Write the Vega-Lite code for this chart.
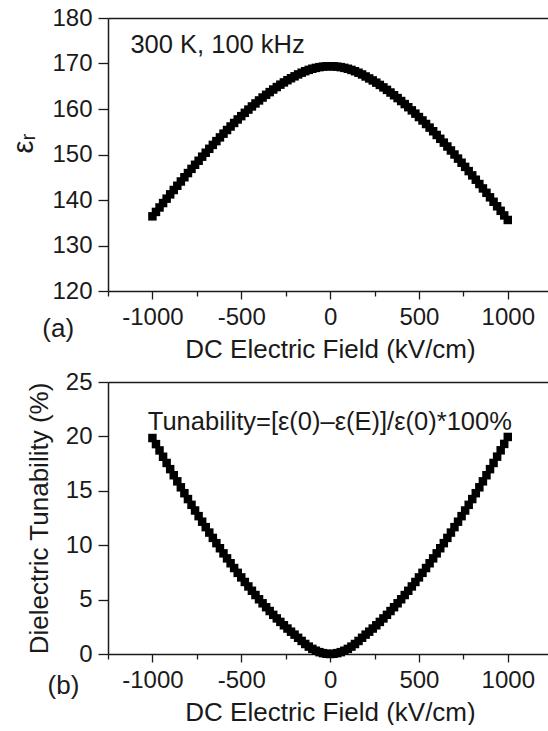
{
  "$schema": "https://vega.github.io/schema/vega-lite/v6.json",
  "padding": {"left": 9, "top": 6, "right": 0, "bottom": 0},
  "spacing": 8,
  "config": {
    "view": {"stroke": null},
    "font": "Liberation Sans",
    "axis": {
      "grid": false,
      "domainColor": "#1a1a1a",
      "domainWidth": 1.5,
      "tickColor": "#1a1a1a",
      "tickWidth": 1.3,
      "labelFont": "Liberation Sans",
      "labelFontSize": 24,
      "labelColor": "#1a1a1a",
      "labelOverlap": false,
      "labelFlush": false,
      "labelBound": false,
      "titleFont": "Liberation Sans",
      "titleFontSize": 26,
      "titleFontWeight": "normal",
      "titleColor": "#1a1a1a"
    }
  },
  "datasets": {
    "eps": [
      {"E": -1000, "v": 136.41}, {"E": -980, "v": 137.38}, {"E": -960, "v": 138.36}, {"E": -940, "v": 139.33}, {"E": -920, "v": 140.29},
      {"E": -900, "v": 141.24}, {"E": -880, "v": 142.20}, {"E": -860, "v": 143.13}, {"E": -840, "v": 144.07}, {"E": -820, "v": 145.00},
      {"E": -800, "v": 145.92}, {"E": -780, "v": 146.84}, {"E": -760, "v": 147.74}, {"E": -740, "v": 148.63}, {"E": -720, "v": 149.52},
      {"E": -700, "v": 150.39}, {"E": -680, "v": 151.25}, {"E": -660, "v": 152.11}, {"E": -640, "v": 152.94}, {"E": -620, "v": 153.76},
      {"E": -600, "v": 154.58}, {"E": -580, "v": 155.38}, {"E": -560, "v": 156.16}, {"E": -540, "v": 156.93}, {"E": -520, "v": 157.70},
      {"E": -500, "v": 158.43}, {"E": -480, "v": 159.16}, {"E": -460, "v": 159.87}, {"E": -440, "v": 160.56}, {"E": -420, "v": 161.22},
      {"E": -400, "v": 161.88}, {"E": -380, "v": 162.52}, {"E": -360, "v": 163.12}, {"E": -340, "v": 163.71}, {"E": -320, "v": 164.28},
      {"E": -300, "v": 164.82}, {"E": -280, "v": 165.35}, {"E": -260, "v": 165.84}, {"E": -240, "v": 166.33}, {"E": -220, "v": 166.76},
      {"E": -200, "v": 167.18}, {"E": -180, "v": 167.60}, {"E": -160, "v": 167.98}, {"E": -140, "v": 168.31}, {"E": -120, "v": 168.60},
      {"E": -100, "v": 168.85}, {"E": -80, "v": 169.04}, {"E": -60, "v": 169.20}, {"E": -40, "v": 169.31}, {"E": -20, "v": 169.38},
      {"E": 0, "v": 169.40},
      {"E": 20, "v": 169.38}, {"E": 40, "v": 169.31}, {"E": 60, "v": 169.20}, {"E": 80, "v": 169.04}, {"E": 100, "v": 168.84},
      {"E": 120, "v": 168.59}, {"E": 140, "v": 168.30}, {"E": 160, "v": 167.97}, {"E": 180, "v": 167.59}, {"E": 200, "v": 167.15},
      {"E": 220, "v": 166.72}, {"E": 240, "v": 166.28}, {"E": 260, "v": 165.79}, {"E": 280, "v": 165.29}, {"E": 300, "v": 164.75},
      {"E": 320, "v": 164.20}, {"E": 340, "v": 163.62}, {"E": 360, "v": 163.02}, {"E": 380, "v": 162.40}, {"E": 400, "v": 161.75},
      {"E": 420, "v": 161.08}, {"E": 440, "v": 160.40}, {"E": 460, "v": 159.70}, {"E": 480, "v": 158.98}, {"E": 500, "v": 158.23},
      {"E": 520, "v": 157.48}, {"E": 540, "v": 156.70}, {"E": 560, "v": 155.91}, {"E": 580, "v": 155.11}, {"E": 600, "v": 154.29},
      {"E": 620, "v": 153.45}, {"E": 640, "v": 152.61}, {"E": 660, "v": 151.76}, {"E": 680, "v": 150.88}, {"E": 700, "v": 150.00},
      {"E": 720, "v": 149.10}, {"E": 740, "v": 148.19}, {"E": 760, "v": 147.28}, {"E": 780, "v": 146.35}, {"E": 800, "v": 145.41},
      {"E": 820, "v": 144.46}, {"E": 840, "v": 143.51}, {"E": 860, "v": 142.54}, {"E": 880, "v": 141.58}, {"E": 900, "v": 140.59},
      {"E": 920, "v": 139.61}, {"E": 940, "v": 138.62}, {"E": 960, "v": 137.62}, {"E": 980, "v": 136.61}, {"E": 1000, "v": 135.61}
    ],
    "tun": [
      {"E": -1000, "v": 19.85}, {"E": -980, "v": 19.29}, {"E": -960, "v": 18.71}, {"E": -940, "v": 18.13}, {"E": -920, "v": 17.56},
      {"E": -900, "v": 16.99}, {"E": -880, "v": 16.43}, {"E": -860, "v": 15.87}, {"E": -840, "v": 15.32}, {"E": -820, "v": 14.78},
      {"E": -800, "v": 14.24}, {"E": -780, "v": 13.71}, {"E": -760, "v": 13.19}, {"E": -740, "v": 12.67}, {"E": -720, "v": 12.16},
      {"E": -700, "v": 11.66}, {"E": -680, "v": 11.16}, {"E": -660, "v": 10.67}, {"E": -640, "v": 10.19}, {"E": -620, "v": 9.72},
      {"E": -600, "v": 9.25}, {"E": -580, "v": 8.79}, {"E": -560, "v": 8.34}, {"E": -540, "v": 7.90}, {"E": -520, "v": 7.46},
      {"E": -500, "v": 7.04}, {"E": -480, "v": 6.62}, {"E": -460, "v": 6.21}, {"E": -440, "v": 5.81}, {"E": -420, "v": 5.42},
      {"E": -400, "v": 5.03}, {"E": -380, "v": 4.66}, {"E": -360, "v": 4.30}, {"E": -340, "v": 3.95}, {"E": -320, "v": 3.60},
      {"E": -300, "v": 3.27}, {"E": -280, "v": 2.95}, {"E": -260, "v": 2.64}, {"E": -240, "v": 2.34}, {"E": -220, "v": 2.05},
      {"E": -200, "v": 1.78}, {"E": -180, "v": 1.49}, {"E": -160, "v": 1.20}, {"E": -140, "v": 0.92}, {"E": -120, "v": 0.68},
      {"E": -100, "v": 0.47}, {"E": -80, "v": 0.30}, {"E": -60, "v": 0.17}, {"E": -40, "v": 0.08}, {"E": -20, "v": 0.02},
      {"E": 0, "v": 0.0},
      {"E": 20, "v": 0.02}, {"E": 40, "v": 0.08}, {"E": 60, "v": 0.17}, {"E": 80, "v": 0.30}, {"E": 100, "v": 0.47},
      {"E": 120, "v": 0.68}, {"E": 140, "v": 0.92}, {"E": 160, "v": 1.20}, {"E": 180, "v": 1.49}, {"E": 200, "v": 1.78},
      {"E": 220, "v": 2.05}, {"E": 240, "v": 2.34}, {"E": 260, "v": 2.64}, {"E": 280, "v": 2.95}, {"E": 300, "v": 3.27},
      {"E": 320, "v": 3.60}, {"E": 340, "v": 3.95}, {"E": 360, "v": 4.30}, {"E": 380, "v": 4.66}, {"E": 400, "v": 5.03},
      {"E": 420, "v": 5.42}, {"E": 440, "v": 5.81}, {"E": 460, "v": 6.21}, {"E": 480, "v": 6.62}, {"E": 500, "v": 7.04},
      {"E": 520, "v": 7.46}, {"E": 540, "v": 7.90}, {"E": 560, "v": 8.34}, {"E": 580, "v": 8.79}, {"E": 600, "v": 9.25},
      {"E": 620, "v": 9.72}, {"E": 640, "v": 10.19}, {"E": 660, "v": 10.67}, {"E": 680, "v": 11.16}, {"E": 700, "v": 11.66},
      {"E": 720, "v": 12.16}, {"E": 740, "v": 12.67}, {"E": 760, "v": 13.19}, {"E": 780, "v": 13.71}, {"E": 800, "v": 14.24},
      {"E": 820, "v": 14.78}, {"E": 840, "v": 15.32}, {"E": 860, "v": 15.87}, {"E": 880, "v": 16.43}, {"E": 900, "v": 16.99},
      {"E": 920, "v": 17.56}, {"E": 940, "v": 18.14}, {"E": 960, "v": 18.72}, {"E": 980, "v": 19.31}, {"E": 1000, "v": 19.95}
    ]
  },
  "vconcat": [
    {
      "width": 441,
      "height": 273,
      "resolve": {"axis": {"x": "independent"}},
      "layer": [
        {
          "data": {"name": "eps"},
          "mark": {"type": "point", "shape": "square", "filled": true, "size": 72, "color": "#000000", "opacity": 1, "strokeWidth": 0},
          "encoding": {
            "x": {
              "field": "E", "type": "quantitative",
              "scale": {"domain": [-1250, 1232], "nice": false, "zero": false},
              "axis": {
                "orient": "bottom",
                "values": [-1250, -1000, -750, -500, -250, 0, 250, 500, 750, 1000],
                "labelExpr": "datum.value % 500 === 0 ? '' + datum.value : ''",
                "tickSize": {"condition": {"test": "datum.value % 500 === 0", "value": 8}, "value": 5},
                "labelPadding": 6,
                "title": "DC Electric Field (kV/cm)",
                "titlePadding": 7,
                "titleX": 222
              }
            },
            "y": {
              "field": "v", "type": "quantitative",
              "scale": {"domain": [120, 180], "nice": false, "zero": false},
              "axis": {
                "values": [120, 125, 130, 135, 140, 145, 150, 155, 160, 165, 170, 175, 180],
                "labelExpr": "datum.value % 10 === 0 ? '' + datum.value : ''",
                "tickSize": {"condition": {"test": "datum.value % 10 === 0", "value": 10}, "value": 5.5},
                "labelPadding": 6,
                "title": "εᵣ",
                "titleFontSize": 29,
                "titlePadding": 13,
                "titleY": 125
              }
            }
          }
        },
        {
          "data": {"values": [{}]},
          "mark": {"type": "text", "text": "300 K, 100 kHz", "align": "left", "baseline": "alphabetic", "fontSize": 25.5, "font": "Liberation Sans", "color": "#1a1a1a"},
          "encoding": {
            "x": {"datum": -1124, "type": "quantitative", "axis": {"orient": "top", "labels": false, "ticks": false, "title": null, "domain": true}},
            "y": {"datum": 172.3, "type": "quantitative"}
          }
        },
        {
          "data": {"values": [{}]},
          "mark": {"type": "text", "text": "(a)", "align": "left", "baseline": "alphabetic", "fontSize": 26, "font": "Liberation Sans", "color": "#1a1a1a"},
          "encoding": {
            "x": {"datum": -1620, "type": "quantitative", "axis": null},
            "y": {"datum": 110.0, "type": "quantitative"}
          }
        }
      ]
    },
    {
      "width": 441,
      "height": 272,
      "resolve": {"axis": {"x": "independent"}},
      "layer": [
        {
          "data": {"name": "tun"},
          "mark": {"type": "point", "shape": "square", "filled": true, "size": 72, "color": "#000000", "opacity": 1, "strokeWidth": 0},
          "encoding": {
            "x": {
              "field": "E", "type": "quantitative",
              "scale": {"domain": [-1250, 1232], "nice": false, "zero": false},
              "axis": {
                "orient": "bottom",
                "values": [-1250, -1000, -750, -500, -250, 0, 250, 500, 750, 1000],
                "labelExpr": "datum.value % 500 === 0 ? '' + datum.value : ''",
                "tickSize": {"condition": {"test": "datum.value % 500 === 0", "value": 8}, "value": 5},
                "labelPadding": 6,
                "title": "DC Electric Field (kV/cm)",
                "titlePadding": 7,
                "titleX": 222
              }
            },
            "y": {
              "field": "v", "type": "quantitative",
              "scale": {"domain": [0, 25], "nice": false, "zero": false},
              "axis": {
                "values": [0, 2.5, 5, 7.5, 10, 12.5, 15, 17.5, 20, 22.5, 25],
                "labelExpr": "datum.value % 5 === 0 ? '' + datum.value : ''",
                "tickSize": {"condition": {"test": "datum.value % 5 === 0", "value": 10}, "value": 5.5},
                "labelPadding": 6,
                "title": "Dielectric Tunability (%)",
                "titlePadding": 13
              }
            }
          }
        },
        {
          "data": {"values": [{}]},
          "mark": {"type": "text", "text": "Tunability=[ε(0)–ε(E)]/ε(0)*100%", "align": "left", "baseline": "alphabetic", "fontSize": 25.5, "font": "Liberation Sans", "color": "#1a1a1a"},
          "encoding": {
            "x": {"datum": -1026, "type": "quantitative", "axis": {"orient": "top", "labels": false, "ticks": false, "title": null, "domain": true}},
            "y": {"datum": 20.6, "type": "quantitative"}
          }
        },
        {
          "data": {"values": [{}]},
          "mark": {"type": "text", "text": "(b)", "align": "left", "baseline": "alphabetic", "fontSize": 26, "font": "Liberation Sans", "color": "#1a1a1a"},
          "encoding": {
            "x": {"datum": -1590, "type": "quantitative", "axis": null},
            "y": {"datum": -3.7, "type": "quantitative"}
          }
        }
      ]
    }
  ]
}
